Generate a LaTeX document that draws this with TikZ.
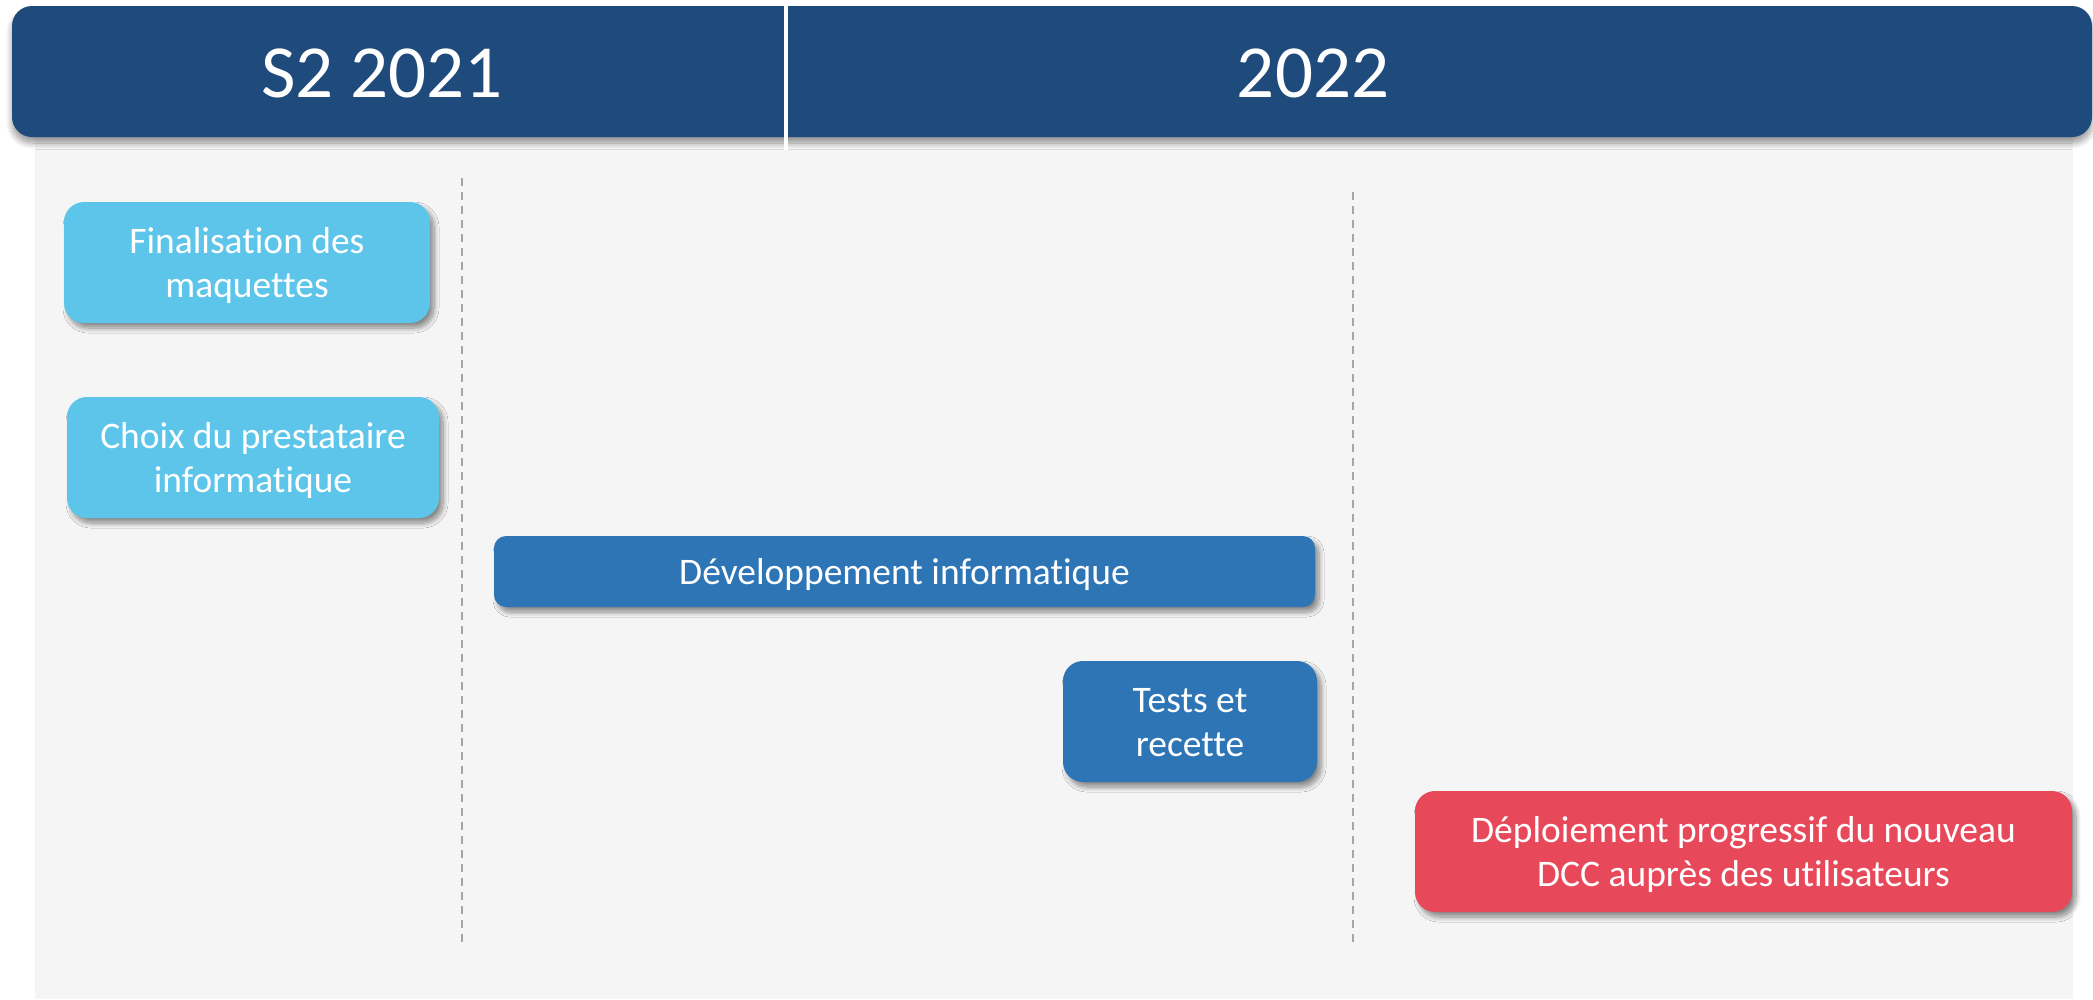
\documentclass[tikz,border=0pt]{standalone}
\usepackage{fontspec}
\setmainfont{Carlito}[Ligatures=NoCommon]
\usetikzlibrary{shadows.blur}
\definecolor{hdrblue}{HTML}{1F4A7C}
\definecolor{lightblue}{HTML}{5DC5EA}
\definecolor{midblue}{HTML}{2E75B6}
\definecolor{taskred}{HTML}{E8495A}
\definecolor{panelgrey}{HTML}{F5F5F5}
\definecolor{dashgrey}{HTML}{A6A6A6}
\newcommand{\tstrut}{\rule{0pt}{34pt}}
\newcommand{\bstrut}{\rule[-9pt]{0pt}{9pt}}
\tikzset{
  taskbox/.style={rounded corners=20pt, inner sep=0pt, align=center, text=white,
    font=\fontsize{37.5}{44}\selectfont,
    blur shadow={shadow xshift=4pt, shadow yshift=-5pt, shadow blur radius=5pt,
      shadow blur steps=10, shadow opacity=45}},
  sepline/.style={draw=dashgrey, line width=1.6pt, dash pattern=on 8pt off 6pt},
  hdrtext/.style={text=white, font=\fontsize{75}{90}\selectfont, inner sep=0pt}
}
\begin{document}
\begin{tikzpicture}[x=1pt,y=-1pt]
\useasboundingbox (0,0) rectangle (2093,999);
% grey panel
\fill[panelgrey] (35,137) rectangle (2073,999);
% header
\fill[hdrblue, rounded corners=20pt,
  blur shadow={shadow xshift=0pt, shadow yshift=-6pt, shadow blur radius=6pt,
    shadow blur steps=10, shadow opacity=40}]
  (12,6) rectangle (2092,137);
\draw[white, line width=3.5pt] (786,6) -- (786,150);
\node[hdrtext] (h1) at (382,73) {S2 2021};
\node[hdrtext] (h2) at (1313,73) {2022};
% dashed separators
\coordinate (s1t) at (462,178);
\coordinate (s1b) at (462,943);
\coordinate (s2t) at (1353,192);
\coordinate (s2b) at (1353,942);
\draw[sepline] (s1t) -- (s1b);
\draw[sepline] (s2t) -- (s2b);
% tasks
\node[taskbox, fill=lightblue, minimum width=366pt, minimum height=121pt] (fin) at (247,262.5)
  {\tstrut Finalisation des\\maquettes\bstrut};
\node[taskbox, fill=lightblue, minimum width=372pt, minimum height=121pt] (choix) at (253,457.5)
  {\tstrut Choix du prestataire\\informatique\bstrut};
\node[taskbox, fill=midblue, rounded corners=12pt, minimum width=821pt, minimum height=71pt] (dev) at (904.5,571.5)
  {\tstrut Développement informatique\bstrut};
\node[taskbox, fill=midblue, minimum width=254pt, minimum height=121pt] (tests) at (1190,721.5)
  {\tstrut Tests et\\recette\bstrut};
\node[taskbox, fill=taskred, minimum width=657pt, minimum height=121pt] (deploy) at (1743.5,851.5)
  {\tstrut Déploiement progressif du nouveau\\DCC auprès des utilisateurs\bstrut};
\end{tikzpicture}
\end{document}
